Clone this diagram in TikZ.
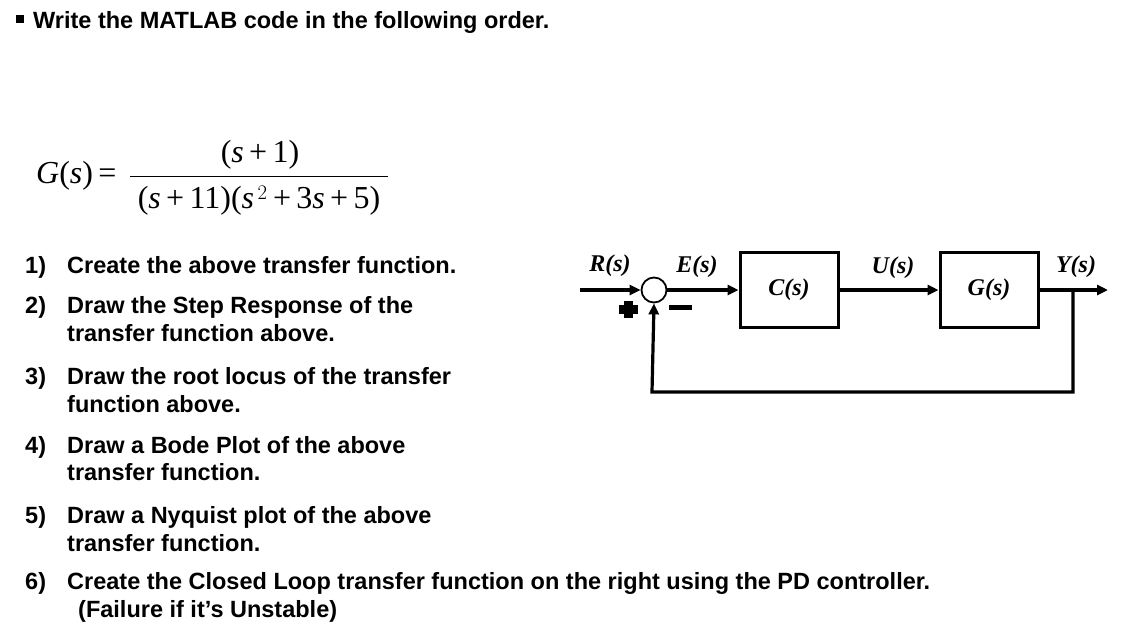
\documentclass[tikz,border=0pt]{standalone}
\usepackage{fontspec}
\setmainfont{Liberation Sans}
\newfontfamily\tnr{Liberation Serif}
\usetikzlibrary{arrows.meta}
\begin{document}
\begin{tikzpicture}[x=1pt,y=-1pt,
  txt/.style={anchor=base west,inner sep=0pt,font=\fontsize{23.5}{27}\selectfont\bfseries},
  blk/.style={draw,line width=3pt,minimum width=98pt,minimum height=75pt,inner sep=0pt,font=\tnr\fontsize{24}{26}\selectfont\bfseries\itshape},
  lbl/.style={inner sep=0pt,font=\tnr\fontsize{24}{26}\selectfont\bfseries\itshape},
  wire/.style={line width=3.2pt,-{Triangle[length=11pt,width=10pt]}},
  eq/.style={inner sep=0pt,font=\tnr\fontsize{32}{34}\selectfont}]
\useasboundingbox (0,0) rectangle (1130,630);
\fill[white] (0,0) rectangle (1130,630);
\fill (16,15) rectangle (24,23);
\node[txt] (title) at (33,28) {Write the MATLAB code in the following order.};
% equation
\node[eq,anchor=west] (G) at (36,176) {\textit{G}(\textit{s})\,=};
\draw[line width=1pt] (130,176) coordinate (bl) -- (388,176) coordinate (br);
\node[eq] (num) at (260,155) {(\textit{s}\,+\,1)};
\node[eq] (den) at (259,201) {(\textit{s}\,+\,11)(\textit{s}$^{\,2}$\,+\,3\textit{s}\,+\,5)};
% list
\node[txt] (n1) at (25,273) {1)};\node[txt] (t1) at (67,273) {Create the above transfer function.};
\node[txt] (n2) at (25,313) {2)};\node[txt] (t2) at (67,313) {Draw the Step Response of the};
\node[txt] (t2b) at (67,341) {transfer function above.};
\node[txt] (n3) at (25,384) {3)};\node[txt] (t3) at (67,384) {Draw the root locus of the transfer};
\node[txt] (t3b) at (67,412) {function above.};
\node[txt] (n4) at (25,453) {4)};\node[txt] (t4) at (67,453) {Draw a Bode Plot of the above};
\node[txt] (t4b) at (67,480) {transfer function.};
\node[txt] (n5) at (25,523) {5)};\node[txt] (t5) at (67,523) {Draw a Nyquist plot of the above};
\node[txt] (t5b) at (67,551) {transfer function.};
\node[txt] (n6) at (25,589) {6)};\node[txt] (t6) at (67,589) {Create the Closed Loop transfer function on the right using the PD controller.};
\node[txt] (t6b) at (78,617) {(Failure if it's Unstable)};
% block diagram
\node[draw,circle,line width=1.8pt,minimum size=25pt,inner sep=0pt] (sum) at (654,290) {};
\node[blk] (C) at (789,290) {C(s)};
\node[blk] (Gb) at (989,290) {G(s)};
\coordinate (in) at (580,290);
\coordinate (out) at (1108,290);
\coordinate (br1) at (1073,290);
\coordinate (br2) at (1073,392);
\coordinate (br3) at (652,392);
\draw[wire] (in) -- (sum.west);
\draw[wire] (sum.east) -- (C.west);
\draw[wire] (C.east) -- (Gb.west);
\draw[wire] (Gb.east) -- (out);
\draw[wire] (br1) -- (br2) -- (br3) -- (sum.south);
\node[lbl] (R) at (610,266) {R(s)};
\node[lbl] (E) at (697,267) {E(s)};
\node[lbl] (U) at (893,268) {U(s)};
\node[lbl] (Y) at (1076,267) {Y(s)};
\fill (624,301) rectangle (633,318);
\fill (619,305) rectangle (638,314);
\fill (669,305) rectangle (692,310);
\end{tikzpicture}
\end{document}
